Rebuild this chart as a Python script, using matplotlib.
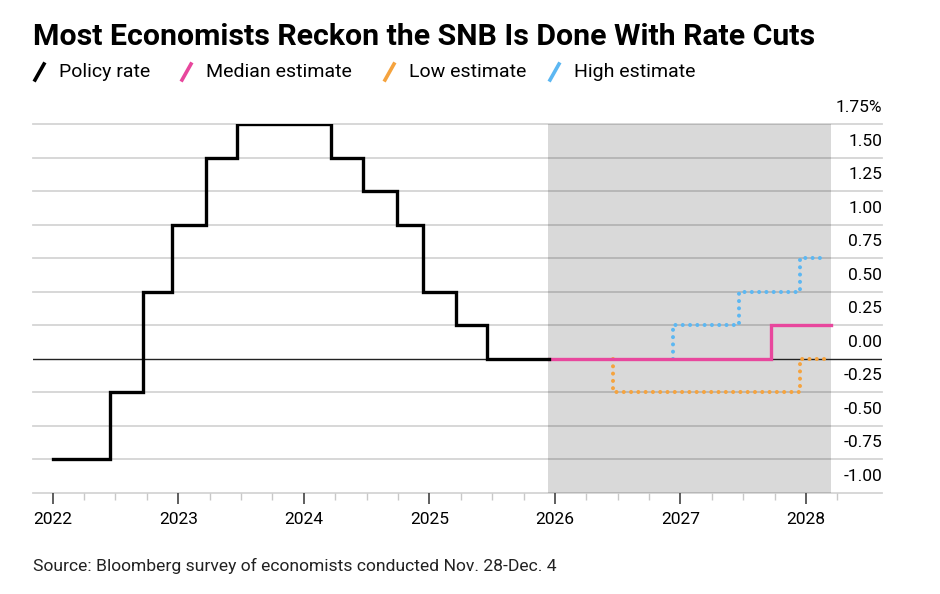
import matplotlib
matplotlib.use('Agg')
from matplotlib import pyplot as plt
from matplotlib.lines import Line2D
import matplotlib.transforms as mtransforms

# policy rate history (decimal year, rate in %), steps take effect at each date
policy_dates = [2022.0, 2022.46, 2022.72, 2022.95, 2023.22, 2023.47, 2024.22, 2024.47, 2024.74, 2024.95, 2025.21, 2025.46, 2025.95]
policy_rates = [-0.75, -0.25, 0.50, 1.00, 1.50, 1.75, 1.50, 1.25, 1.00, 0.50, 0.25, 0.00, 0.00]

# economist estimates (low / high drawn from where they leave the median)
median_dates = [2025.95, 2027.72, 2028.2]
median_rates = [0.00, 0.25, 0.25]
low_dates = [2026.46, 2026.46, 2027.95, 2028.17]
low_rates = [0.00, -0.25, 0.00, 0.00]
high_dates = [2026.94, 2026.94, 2027.47, 2027.95, 2028.17]
high_rates = [0.00, 0.25, 0.50, 0.75, 0.75]

forecast_span = (2025.945, 2028.2)
years = [2022, 2023, 2024, 2025, 2026, 2027, 2028]
y_ticks = [1.75, 1.5, 1.25, 1.0, 0.75, 0.5, 0.25, 0.0, -0.25, -0.5, -0.75, -1.0]
y_labels = ['1.75%', '1.50', '1.25', '1.00', '0.75', '0.50', '0.25', '0.00', '-0.25', '-0.50', '-0.75', '-1.00']

pink = '#e8479d'
orange = '#f5a33e'
blue = '#5cb7f2'

plt.rcParams['font.family'] = ['Roboto', 'DejaVu Sans']

W, H = 940, 594
fig = plt.figure(figsize=(9.4, 5.94), dpi=100)
ax = fig.add_axes([33 / W, 1 - 493 / H, (882 - 33) / W, (493 - 124) / H])
ax.set_xlim(2021.843, 2028.605)
ax.set_ylim(-1.0, 1.75)
for s in ax.spines.values():
    s.set_visible(False)

ax.axvspan(forecast_span[0], forecast_span[1], color='#d9d9d9', zorder=0, lw=0)
for v in y_ticks:
    if v == 0:
        ax.axhline(v, color='#222222', lw=1.0, zorder=2)
    else:
        ax.axhline(v, color='black', alpha=0.17, lw=1.3, zorder=1, clip_on=False)

ax.step(policy_dates, policy_rates, where='post', color='black', lw=2.4, zorder=5,
        solid_joinstyle='miter')
ax.step(low_dates, low_rates, where='post', color=orange, lw=2.9, zorder=3,
        linestyle=(0, (0.01, 1.8)), dash_capstyle='round')
ax.step(high_dates, high_rates, where='post', color=blue, lw=2.9, zorder=3,
        linestyle=(0, (0.01, 1.8)), dash_capstyle='round')
ax.step(median_dates, median_rates, where='post', color=pink, lw=2.4, zorder=4,
        solid_joinstyle='miter')

# x ticks
ax.set_xticks(years)
ax.set_xticklabels([str(y) for y in years], fontsize=12.5)
minor = [y + q / 4 for y in range(2021, 2029) for q in range(4)]
minor = [m for m in minor if 2021.85 < m < 2028.5 and m not in years]
ax.set_xticks(minor, minor=True)
ax.tick_params(axis='x', which='major', length=8, width=1.1, color='#333333', pad=6)
ax.tick_params(axis='x', which='minor', length=5, width=1.0, color='#c8c8c8')
ax.set_yticks([])

# y labels sit above the gridlines on the right
offset = mtransforms.ScaledTranslation(0, 9 / 100, fig.dpi_scale_trans)
trans = mtransforms.blended_transform_factory(ax.transAxes, ax.transData) + offset
for v, lab in zip(y_ticks, y_labels):
    ax.text(1.0, v, lab, transform=trans, ha='right', va='bottom', fontsize=12.5)

# title
fig.text(33 / W, 1 - 45 / H, 'Most Economists Reckon the SNB Is Done With Rate Cuts',
         fontsize=21.8, fontweight='bold', ha='left', va='baseline')

# legend
items = [('Policy rate', 'black', 35), ('Median estimate', pink, 182),
         ('Low estimate', orange, 385), ('High estimate', blue, 550)]
for lab, col, x0 in items:
    fig.add_artist(Line2D([(x0) / W, (x0 + 9) / W], [1 - 80 / H, 1 - 64 / H],
                          color=col, lw=2.6, transform=fig.transFigure))
    fig.text((x0 + 24) / W, 1 - 72 / H, lab, fontsize=14, ha='left', va='center')

fig.text(33 / W, 1 - 566 / H, 'Source: Bloomberg survey of economists conducted Nov. 28-Dec. 4',
         fontsize=12.6, ha='left', va='center', color='#222222')

fig.savefig('out.png', dpi=100)
